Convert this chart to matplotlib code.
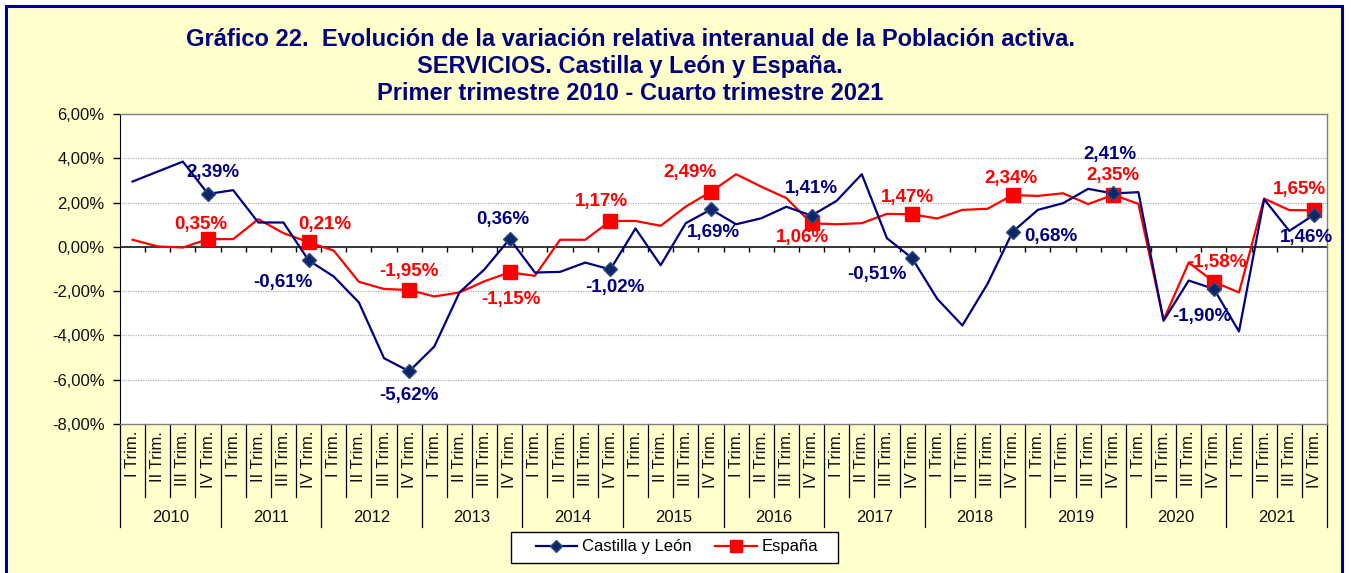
import numpy as np
import matplotlib
matplotlib.use("Agg")
import matplotlib.pyplot as plt
from matplotlib.lines import Line2D
from matplotlib.patches import Rectangle

plt.rcParams['font.family'] = ['Liberation Sans', 'DejaVu Sans']

years = ["2010", "2011", "2012", "2013", "2014", "2015", "2016", "2017",
         "2018", "2019", "2020", "2021"]
quarters = ["I Trim.", "II Trim.", "III Trim.", "IV Trim."]

castilla = [2.95, 3.40, 3.85, 2.39, 2.56, 1.10, 1.10, -0.61,
            -1.34, -2.51, -5.03, -5.62, -4.50, -2.06, -1.01, 0.36,
            -1.16, -1.13, -0.71, -1.02, 0.83, -0.83, 1.07, 1.69,
            1.02, 1.29, 1.81, 1.41, 2.08, 3.28, 0.39, -0.51,
            -2.35, -3.55, -1.67, 0.68, 1.67, 1.97, 2.62, 2.41,
            2.47, -3.34, -1.52, -1.90, -3.82, 2.15, 0.72, 1.46]
espana = [0.32, 0.02, -0.03, 0.35, 0.35, 1.25, 0.62, 0.21,
          -0.17, -1.58, -1.90, -1.95, -2.24, -2.06, -1.55, -1.15,
          -1.31, 0.32, 0.32, 1.17, 1.17, 0.95, 1.82, 2.49,
          3.28, 2.72, 2.20, 1.06, 1.02, 1.07, 1.49, 1.47,
          1.28, 1.67, 1.72, 2.34, 2.30, 2.42, 1.93, 2.35,
          1.94, -3.30, -0.71, -1.58, -2.06, 2.18, 1.66, 1.65]

yticks = [6, 4, 2, 0, -2, -4, -6, -8]

# label offsets in pixels (dx, dy, up positive)
cyl_offsets = {3: (5, 21), 7: (-26, -22), 11: (0, -24), 15: (-7, 19),
               19: (5, -18), 23: (3, -23), 27: (0, 27), 31: (-35, -16),
               35: (38, -5), 39: (-3, 39), 43: (-12, -28), 47: (-8, -23)}
esp_offsets = {3: (-7, 15), 7: (16, 18), 11: (0, 19), 15: (1, -27),
               19: (-9, 19), 23: (-21, 19), 27: (-9, -14), 31: (-5, 17),
               35: (-2, 17), 39: (0, 19), 43: (3, 19), 47: (-15, 21)}

W, H = 1351, 573
fig = plt.figure(figsize=(W / 100, H / 100), dpi=100, facecolor='white')
fig.patches.append(Rectangle((6 / W, -0.05), (1342 - 6) / W, 1.05 - 6 / H,
                             transform=fig.transFigure, facecolor='#FFFFCC',
                             edgecolor='#000099', linewidth=2.2, zorder=-5))

left, right, top, bottom = 120, 1327, 114, 424
ax = fig.add_axes([left / W, 1 - bottom / H, (right - left) / W, (bottom - top) / H])
ax.set_zorder(1)
ax.set_facecolor('white')

n = len(castilla)
x = np.arange(n) + 0.5
ax.set_xlim(0, n)
ax.set_ylim(-8, 6)

for yv in yticks:
    if yv not in (0, 6, -8):
        ax.axhline(yv, color='#B0B0B0', lw=0.9, ls=(0, (1, 1)), zorder=1)
ax.axhline(0, color='black', lw=1.1, zorder=2)
ax.vlines(np.arange(1, n), -0.23, 0, color='black', lw=1, zorder=2)

ax.set_yticks(yticks)
ax.set_yticklabels([f"{v:.2f}%".replace('.', ',') for v in yticks], fontsize=12, color='#111111')
ax.tick_params(axis='y', length=5, width=1, pad=6, color='black')
ax.set_xticks([])
for s in ['top', 'right', 'bottom']:
    ax.spines[s].set_color('#808080')
    ax.spines[s].set_linewidth(1)
ax.spines['left'].set_color('black')

ax.plot(x, espana, color='#FF0000', lw=1.6, zorder=3)
ax.plot(x, castilla, color='#000080', lw=1.6, zorder=4)
iv = np.arange(3, n, 4)
ax.plot(x[iv], np.array(espana)[iv], ls='none', marker='s', ms=10,
        mfc='#FF0000', mec='#FF0000', zorder=5)
ax.plot(x[iv], np.array(castilla)[iv], ls='none', marker='D', ms=7.5,
        mfc='#0E2566', mec='#2E4F86', mew=1, zorder=6)

def fmt(v):
    return f"{v:.2f}%".replace('.', ',')

for i, (dx, dy) in cyl_offsets.items():
    ax.annotate(fmt(castilla[i]), (x[i], castilla[i]), xytext=(dx, dy),
                textcoords='offset pixels', ha='center', va='center',
                fontsize=13.5, fontweight='bold', color='#000080', zorder=7,
                annotation_clip=False)
for i, (dx, dy) in esp_offsets.items():
    ax.annotate(fmt(espana[i]), (x[i], espana[i]), xytext=(dx, dy),
                textcoords='offset pixels', ha='center', va='center',
                fontsize=13.5, fontweight='bold', color='#FF0000', zorder=7,
                annotation_clip=False)

# category axis (two levels)
tr = ax.get_xaxis_transform()
ph = bottom - top
for k in range(n + 1):
    depth = 103 if k % 4 == 0 else 73
    ax.plot([k, k], [0, -depth / ph], transform=tr, color='black', lw=0.9,
            clip_on=False, zorder=2)
for i in range(n):
    ax.text(i + 0.5, -7 / ph, quarters[i % 4], transform=tr, rotation=90,
            ha='center', va='top', fontsize=12, color='#111111')
for j, yr in enumerate(years):
    ax.text(4 * j + 2, -(517 - bottom) / ph, yr, transform=tr, ha='center',
            va='center', fontsize=12, color='#111111')

# title
title_lines = ["Gráfico 22.  Evolución de la variación relativa interanual de la Población activa.",
               "SERVICIOS. Castilla y León y España.",
               "Primer trimestre 2010 - Cuarto trimestre 2021"]
for k, (line, yp) in enumerate(zip(title_lines, [39, 66, 93])):
    fig.text(630 / W, 1 - yp / H, line, ha='center', va='center', fontsize=17,
             fontweight='bold', color='#000080')

# legend frame + legend
fig.patches.append(Rectangle((511 / W, 1 - 563 / H), (838 - 511) / W, 31 / H,
                             transform=fig.transFigure, facecolor='white',
                             edgecolor='black', linewidth=1, zorder=2))
handles = [Line2D([], [], color='#000080', lw=1.6, marker='D', ms=6,
                  mfc='#0E2566', mec='#2E4F86'),
           Line2D([], [], color='#FF0000', lw=1.6, marker='s', ms=9,
                  mfc='#FF0000', mec='#FF0000')]
leg = fig.legend(handles, ["Castilla y León", "España"], loc='center',
                 bbox_to_anchor=(677 / W, 1 - 547 / H), ncol=2, fontsize=12,
                 frameon=False, handlelength=2.5, handletextpad=0.3,
                 columnspacing=1.4, borderpad=0.2)
leg.set_zorder(3)

fig.savefig('out.png', dpi=100, facecolor=fig.get_facecolor())
